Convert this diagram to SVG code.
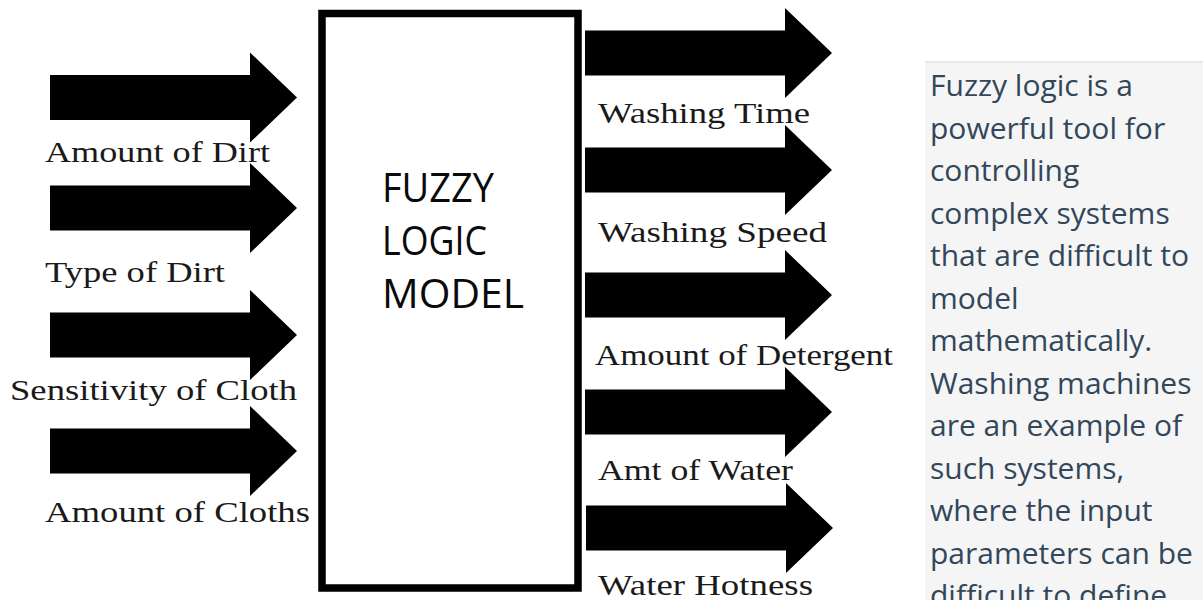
<svg xmlns="http://www.w3.org/2000/svg" xmlns:xlink="http://www.w3.org/1999/xlink" width="1203" height="600" viewBox="0 0 1203 600">
  <style>
    .lbl { font-family: "Liberation Serif", "Times New Roman", serif; font-size: 29px; fill: #1a1a1a; }
    .model { font-family: "Open Sans", "Noto Sans", sans-serif; font-size: 40px; font-weight: 500; fill: #0a0a0a; }
    .para { font-family: "Open Sans", "Noto Sans", sans-serif; font-size: 30px; fill: #33475b; }
    .arrow { fill: #000000; }
  </style>
  <defs>
    <path id="arrowShape" d="M0,-22.5 H200 V-45 L247,0 L200,45 V22.5 H0 Z"/>
  </defs>
  <rect x="0" y="0" width="1203" height="600" fill="#ffffff"/>

  <g id="connectors">
    <use xlink:href="#arrowShape" href="#arrowShape" class="arrow" transform="translate(50,97.5)"/>
    <use xlink:href="#arrowShape" href="#arrowShape" class="arrow" transform="translate(50,208)"/>
    <use xlink:href="#arrowShape" href="#arrowShape" class="arrow" transform="translate(50,335)"/>
    <use xlink:href="#arrowShape" href="#arrowShape" class="arrow" transform="translate(50,451)"/>
    <use xlink:href="#arrowShape" href="#arrowShape" class="arrow" transform="translate(585,53)"/>
    <use xlink:href="#arrowShape" href="#arrowShape" class="arrow" transform="translate(585,170)"/>
    <use xlink:href="#arrowShape" href="#arrowShape" class="arrow" transform="translate(585,295)"/>
    <use xlink:href="#arrowShape" href="#arrowShape" class="arrow" transform="translate(585,412)"/>
    <use xlink:href="#arrowShape" href="#arrowShape" class="arrow" transform="translate(586,528)"/>
  </g>

  <g id="node-fuzzy-model">
    <rect x="322" y="13.5" width="256" height="574.5" fill="#ffffff" stroke="#000000" stroke-width="7.5"/>
    <text class="model" x="382" y="202" textLength="112" lengthAdjust="spacingAndGlyphs">FUZZY</text>
    <text class="model" x="382" y="255" textLength="105" lengthAdjust="spacingAndGlyphs">LOGIC</text>
    <text class="model" x="382" y="308" textLength="142" lengthAdjust="spacingAndGlyphs">MODEL</text>
  </g>

  <g id="node-inputs">
    <text class="lbl" x="45" y="162" textLength="225" lengthAdjust="spacingAndGlyphs">Amount of Dirt</text>
    <text class="lbl" x="45" y="282" textLength="180" lengthAdjust="spacingAndGlyphs">Type of Dirt</text>
    <text class="lbl" x="10" y="400" textLength="287" lengthAdjust="spacingAndGlyphs">Sensitivity of Cloth</text>
    <text class="lbl" x="45" y="522" textLength="265" lengthAdjust="spacingAndGlyphs">Amount of Cloths</text>
  </g>

  <g id="node-outputs">
    <text class="lbl" x="598" y="123" textLength="212" lengthAdjust="spacingAndGlyphs">Washing Time</text>
    <text class="lbl" x="598" y="242" textLength="229" lengthAdjust="spacingAndGlyphs">Washing Speed</text>
    <text class="lbl" x="595" y="365" textLength="298" lengthAdjust="spacingAndGlyphs">Amount of Detergent</text>
    <text class="lbl" x="598" y="480" textLength="195" lengthAdjust="spacingAndGlyphs">Amt of Water</text>
    <text class="lbl" x="598" y="595" textLength="215" lengthAdjust="spacingAndGlyphs">Water Hotness</text>
  </g>

  <g id="node-description">
    <rect x="925" y="62" width="278" height="538" fill="#f5f5f5"/>
    <line x1="925" y1="62" x2="1203" y2="62" stroke="#d4d4e4" stroke-width="1.2"/>
    <text class="para" x="930" y="96">Fuzzy logic is a</text>
    <text class="para" x="930" y="138.5">powerful tool for</text>
    <text class="para" x="930" y="181">controlling</text>
    <text class="para" x="930" y="223.5">complex systems</text>
    <text class="para" x="930" y="266">that are difficult to</text>
    <text class="para" x="930" y="308.5">model</text>
    <text class="para" x="930" y="351">mathematically.</text>
    <text class="para" x="930" y="393.5">Washing machines</text>
    <text class="para" x="930" y="436">are an example of</text>
    <text class="para" x="930" y="478.5">such systems,</text>
    <text class="para" x="930" y="521">where the input</text>
    <text class="para" x="930" y="563.5">parameters can be</text>
    <text class="para" x="930" y="606">difficult to define</text>
  </g>
</svg>
